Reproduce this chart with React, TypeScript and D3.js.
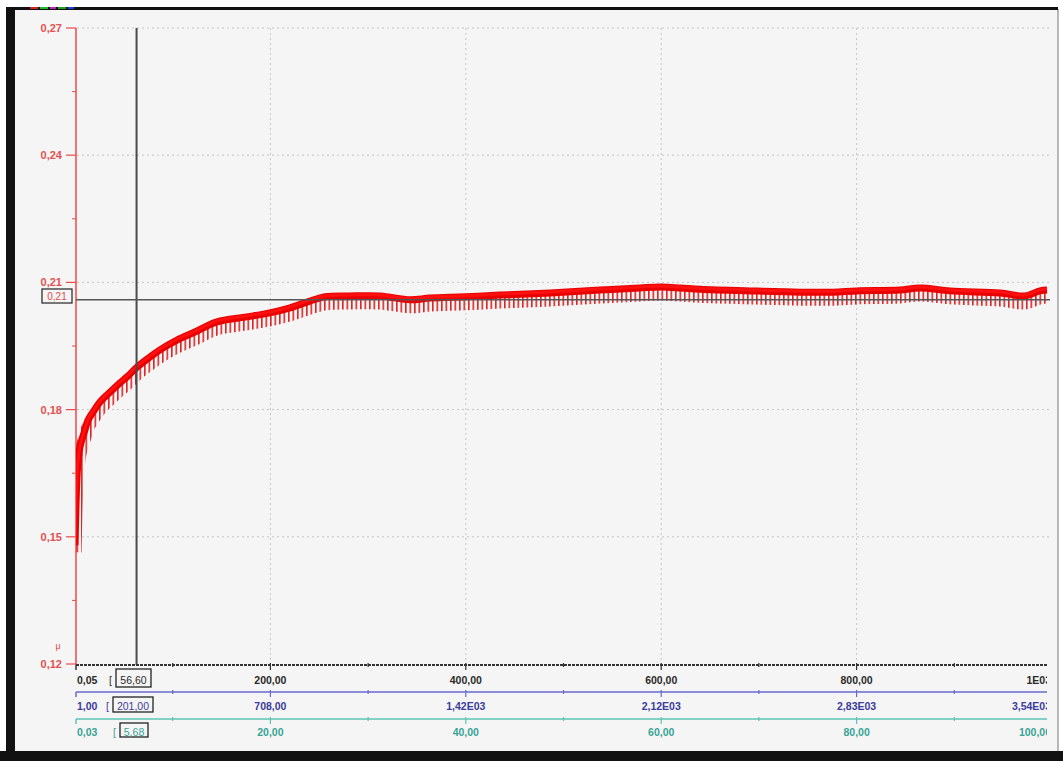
import React from 'react';
import * as d3 from 'd3';

// ---- data ----
const timeS = [0, 2, 3.1, 5.1, 10.2, 13.3, 18.4, 25.6, 35.8, 46.1, 53.2, 63.5, 76.8, 87, 104.4, 122.8, 145.3, 174, 199.6, 220.1, 240.5, 255.9, 281.5, 312.2, 342.9, 363.4, 400.2, 435, 486.2, 537.4, 578.3, 599.8, 619.2, 639.7, 690.9, 742.1, 775.8, 800.4, 844.4, 864.9, 895.6, 946.8, 972.4, 987.7, 994.9];
const muValues = [0.148, 0.1639, 0.1676, 0.1712, 0.1752, 0.1775, 0.1794, 0.1818, 0.1841, 0.1863, 0.1877, 0.19, 0.1924, 0.1941, 0.1964, 0.1983, 0.2007, 0.2018, 0.2028, 0.204, 0.2056, 0.2066, 0.2068, 0.2068, 0.2059, 0.2063, 0.2066, 0.207, 0.2075, 0.2082, 0.2087, 0.2089, 0.2087, 0.2084, 0.208, 0.2077, 0.2077, 0.208, 0.2082, 0.2087, 0.208, 0.2075, 0.2068, 0.208, 0.2082];

const yTicks = [0.12, 0.15, 0.18, 0.21, 0.24, 0.27];
const yTickLabels = ['0,12', '0,15', '0,18', '0,21', '0,24', '0,27'];
const yMinorTicks = [0.135, 0.165, 0.195, 0.225, 0.255];
const xTicks = [200, 400, 600, 800, 1000];
const xMinorTicks = [100, 300, 500, 700, 900];
const xLabelsTime = ['200,00', '400,00', '600,00', '800,00', '1E03'];
const xLabelsCycles = ['708,00', '1,42E03', '2,12E03', '2,83E03', '3,54E03'];
const xLabelsDist = ['20,00', '40,00', '60,00', '80,00', '100,00'];
const axisStartLabels = ['0,05', '1,00', '0,03'];
const cursorBoxLabels = ['56,60', '201,00', '5,68'];
const cursorT = 63;
const cursorMu = 0.2059;
const cursorMuLabel = '0,21';
const yUnit = 'μ';

export default function App() {
  const W = 1063, H = 761;
  const x = d3.scaleLinear().domain([0, 1000]).range([75, 1052]);
  const y = d3.scaleLinear().domain([0.12, 0.27]).range([664, 28]);
  const pts = timeS.map((t, i) => [t, muValues[i]] as [number, number]);
  const line = d3.line<[number, number]>().x(d => x(d[0])).y(d => y(d[1])).curve(d3.curveCatmullRom.alpha(0.5));
  const path = line(pts) || '';

  const font = "'Liberation Sans', Arial, sans-serif";
  const rows = [
    { lineY: 665, textY: 684, lineColor: '#333', textColor: '#2a2a2a', labels: xLabelsTime },
    { lineY: 692, textY: 710, lineColor: '#6a6acc', textColor: '#3c3c9c', labels: xLabelsCycles },
    { lineY: 719, textY: 736, lineColor: '#5cc4b4', textColor: '#38a496', labels: xLabelsDist },
  ];
  const boxes = [
    { x: 116, y: 669, w: 35, h: 18 },
    { x: 113, y: 697, w: 40, h: 15 },
    { x: 120, y: 723, w: 28, h: 14 },
  ];

  return (
    <svg width={W} height={H} style={{ position: 'absolute', left: 0, top: 0, display: 'block' }} fontFamily={font}>
      <defs>
        <pattern id="spikes" patternUnits="userSpaceOnUse" width="4.5" height="20">
          <rect x="0" y="0" width="1.6" height="20" fill="rgba(215,0,0,0.85)" />
        </pattern>
        <clipPath id="rclip"><rect x="0" y="0" width="1047" height={H} /></clipPath>
        <clipPath id="plotclip"><rect x="76" y="20" width="976" height="646" /></clipPath>
      </defs>
      <rect x={0} y={0} width={W} height={H} fill="#ffffff" />
      {/* panel */}
      <rect x={15} y={10} width={1043} height={741} fill="#f5f5f5" />
      <line x1={1058} y1={9} x2={1058} y2={751} stroke="#a0a0a0" strokeWidth={1.5} />
      <rect x={6} y={7} width={1052} height={3} fill="#111" />
      <rect x={6} y={7} width={9} height={745} fill="#111" />
      <rect x={0} y={751} width={W} height={10} fill="#111" />
      {/* small coloured marks on top edge */}
      <rect x={30} y={7} width={8} height={2} fill="#d02020" />
      <rect x={40} y={7} width={8} height={2} fill="#20c020" />
      <rect x={50} y={7} width={6} height={2} fill="#c020c0" />
      <rect x={58} y={7} width={8} height={2} fill="#20a020" />
      <rect x={68} y={7} width={6} height={2} fill="#2040d0" />

      {/* grid */}
      {yTicks.filter(t => t > 0.12).map((t, i) => (
        <line key={'gy' + i} x1={77} x2={1050} y1={y(t)} y2={y(t)} stroke="#c4c4c4" strokeWidth={1} strokeDasharray="2,3" />
      ))}
      {xTicks.filter(t => t < 1000).map((t, i) => (
        <line key={'gx' + i} x1={x(t)} x2={x(t)} y1={28} y2={664} stroke="#c4c4c4" strokeWidth={1} strokeDasharray="2,3" />
      ))}

      {/* y axis */}
      <line x1={76} x2={76} y1={28} y2={665} stroke="#ec4a4a" strokeWidth={1.5} />
      {yTicks.map((t, i) => (
        <g key={'yt' + i}>
          <line x1={66} x2={76} y1={y(t)} y2={y(t)} stroke="#ec4a4a" strokeWidth={1.2} />
          <text x={62} y={y(t) + 4} textAnchor="end" fontSize={11} fontWeight="bold" fill="#e45050">{yTickLabels[i]}</text>
        </g>
      ))}
      {yMinorTicks.map((t, i) => (
        <line key={'ym' + i} x1={72} x2={76} y1={y(t)} y2={y(t)} stroke="#ec4a4a" strokeWidth={1} />
      ))}
      <text x={58} y={649} textAnchor="middle" fontSize={9} fill="#e44a4a">{yUnit}</text>

      {/* curve */}
      <g clipPath="url(#plotclip)">
        <path d={path} fill="none" stroke="url(#spikes)" strokeWidth={13} transform="translate(0,7)" />
        <path d={path} fill="none" stroke="#e80000" strokeWidth={7} strokeLinejoin="round" />
        <path d={path} fill="none" stroke="#ff1010" strokeWidth={3} transform="translate(0,-1)" />
      </g>

      {/* cursors */}
      <line x1={x(cursorT)} x2={x(cursorT)} y1={28} y2={665} stroke="#4a4a4a" strokeWidth={2} />
      <line x1={76} x2={1050} y1={y(cursorMu)} y2={y(cursorMu)} stroke="#555" strokeWidth={1.5} />
      <rect x={42} y={289} width={30} height={14} fill="#f5f5f5" stroke="#222" strokeWidth={1.2} />
      <text x={57} y={300} textAnchor="middle" fontSize={10} fill="#e44a4a">{cursorMuLabel}</text>

      {/* x axes */}
      <g clipPath="url(#rclip)">
        {rows.map((r, ri) => (
          <g key={'row' + ri}>
            <line x1={76} x2={1050} y1={r.lineY} y2={r.lineY} stroke={r.lineColor} strokeWidth={ri === 0 ? 2 : 1.5} strokeDasharray={ri === 0 ? '3,1' : undefined} />
            <line x1={76} x2={76} y1={r.lineY} y2={r.lineY + 5} stroke={r.lineColor} strokeWidth={1.5} />
            {xTicks.map((t, i) => (
              <line key={'mt' + i} x1={x(t)} x2={x(t)} y1={r.lineY - 2} y2={r.lineY + 5} stroke={r.lineColor} strokeWidth={1.2} />
            ))}
            {xMinorTicks.map((t, i) => (
              <line key={'nt' + i} x1={x(t)} x2={x(t)} y1={r.lineY - 2} y2={r.lineY + 2} stroke={r.lineColor} strokeWidth={1.2} />
            ))}
            {xTicks.map((t, i) => (
              <text key={'lb' + i} x={t === 1000 ? 1051 : x(t)} y={r.textY} textAnchor={t === 1000 ? 'end' : 'middle'} fontSize={10.5} fontWeight="bold" fill={r.textColor}>{r.labels[i]}</text>
            ))}
            <text x={77} y={r.textY} fontSize={10.5} fontWeight="bold" fill={r.textColor}>{axisStartLabels[ri]}</text>
            <text x={boxes[ri].x - 7} y={r.textY} fontSize={10.5} fill={r.textColor}>[</text>
            <rect x={boxes[ri].x} y={boxes[ri].y} width={boxes[ri].w} height={boxes[ri].h} fill="#f5f5f5" stroke="#222" strokeWidth={1.3} />
            <text x={boxes[ri].x + boxes[ri].w / 2} y={r.textY} textAnchor="middle" fontSize={10.5} fill={r.textColor}>{cursorBoxLabels[ri]}</text>
          </g>
        ))}
      </g>
    </svg>
  );
}
